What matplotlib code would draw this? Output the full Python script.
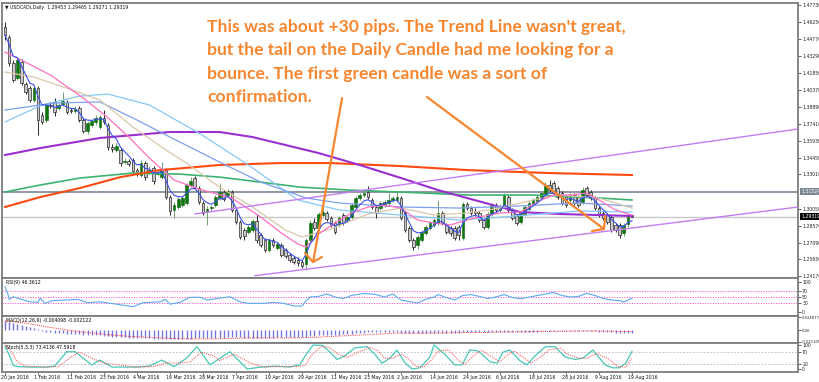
import numpy as np
import pandas as pd
import matplotlib
matplotlib.use("Agg")
import matplotlib.pyplot as plt
import matplotlib.transforms as mtrans

# ---------------- data (USDCAD daily) ----------------
opens = [1.4582, 1.4495, 1.4269, 1.4138, 1.4278, 1.4086, 1.4051, 1.3948, 1.4051, 1.3818,
         1.3774, 1.3905, 1.3931, 1.3878, 1.3913, 1.3931, 1.3861, 1.3852, 1.3878, 1.3774,
         1.3678, 1.3731, 1.3757, 1.3713, 1.3792, 1.3731, 1.3539, 1.3513, 1.3513, 1.3409,
         1.3417, 1.3426, 1.3339, 1.3296, 1.3400, 1.3322, 1.3356, 1.3304, 1.3278, 1.3339,
         1.3104, 1.2992, 1.3018, 1.3035, 1.3053, 1.3209, 1.3270, 1.3183, 1.3053, 1.2983,
         1.3009, 1.3035, 1.3096, 1.3148, 1.3122, 1.3148, 1.2992, 1.2888, 1.2818, 1.2801,
         1.2818, 1.2896, 1.2775, 1.2731, 1.2644, 1.2731, 1.2661, 1.2688, 1.2644, 1.2600,
         1.2574, 1.2557, 1.2540, 1.2522, 1.2731, 1.2888, 1.2835, 1.2948, 1.2966, 1.2922,
         1.2879, 1.2862, 1.2948, 1.2905, 1.2931, 1.3018, 1.3096, 1.3122, 1.3148, 1.3079,
         1.3018, 1.3009, 1.3035, 1.3053, 1.3079, 1.3079, 1.3096, 1.2966, 1.2835, 1.2731,
         1.2688, 1.2731, 1.2792, 1.2835, 1.2862, 1.2879, 1.2966, 1.2862, 1.2835, 1.2835,
         1.2844, 1.2748, 1.3044, 1.3009, 1.2983, 1.2966, 1.2905, 1.2844, 1.2957, 1.3035,
         1.2992, 1.3026, 1.3104, 1.2992, 1.2940, 1.2888, 1.2957, 1.3000, 1.3044, 1.3070,
         1.3096, 1.3131, 1.3209, 1.3226, 1.3183, 1.3139, 1.3104, 1.3079, 1.3122, 1.3104,
         1.3061, 1.3183, 1.3148, 1.3096, 1.3009, 1.2966, 1.2948, 1.2931, 1.2862, 1.2862,
         1.2792, 1.2870, 1.29453]
highs = [1.4626, 1.4513, 1.4295, 1.4312, 1.4304, 1.4104, 1.4069, 1.4069, 1.4069, 1.3844,
         1.3922, 1.3931, 1.3964, 1.3922, 1.4017, 1.3948, 1.3878, 1.3896, 1.3896, 1.3792,
         1.3765, 1.3783, 1.3818, 1.3818, 1.3861, 1.3748, 1.3565, 1.3574, 1.3530, 1.3443,
         1.3435, 1.3443, 1.3356, 1.3426, 1.3417, 1.3374, 1.3374, 1.3348, 1.3409, 1.3356,
         1.3122, 1.3061, 1.3104, 1.3113, 1.3226, 1.3278, 1.3287, 1.3200, 1.3070, 1.3026,
         1.3035, 1.3122, 1.3226, 1.3165, 1.3174, 1.3165, 1.3009, 1.2905, 1.2835, 1.2862,
         1.2914, 1.2957, 1.2792, 1.2748, 1.2748, 1.2748, 1.2714, 1.2705, 1.2661, 1.2618,
         1.2592, 1.2583, 1.2557, 1.2748, 1.2905, 1.2922, 1.2974, 1.3079, 1.2983, 1.2940,
         1.2896, 1.2940, 1.2966, 1.2948, 1.3053, 1.3113, 1.3139, 1.3157, 1.3200, 1.3096,
         1.3035, 1.3070, 1.3079, 1.3139, 1.3113, 1.3148, 1.3113, 1.2983, 1.2853, 1.2748,
         1.2774, 1.2818, 1.2862, 1.2896, 1.2922, 1.3079, 1.2983, 1.2879, 1.2853, 1.2853,
         1.2862, 1.3061, 1.3061, 1.3026, 1.3009, 1.2983, 1.2922, 1.2974, 1.3053, 1.3053,
         1.3044, 1.3139, 1.3122, 1.3009, 1.2957, 1.2983, 1.3035, 1.3070, 1.3096, 1.3122,
         1.3157, 1.3235, 1.3252, 1.3243, 1.3200, 1.3157, 1.3122, 1.3139, 1.3139, 1.3122,
         1.3191, 1.3200, 1.3165, 1.3113, 1.3026, 1.2983, 1.2966, 1.2948, 1.2879, 1.2879,
         1.2879, 1.2957, 1.29465]
lows = [1.4469, 1.4243, 1.4104, 1.4121, 1.4078, 1.3999, 1.3931, 1.3931, 1.3644, 1.3739,
        1.3757, 1.3878, 1.3809, 1.3861, 1.3896, 1.3826, 1.3835, 1.3835, 1.3757, 1.3661,
        1.3652, 1.3713, 1.3731, 1.3696, 1.3739, 1.3513, 1.3496, 1.3496, 1.3374, 1.3391,
        1.3374, 1.3304, 1.3287, 1.3278, 1.3252, 1.3304, 1.3217, 1.3287, 1.3261, 1.3087,
        1.2948, 1.2922, 1.3000, 1.3018, 1.3035, 1.3191, 1.3174, 1.3044, 1.2948, 1.2862,
        1.2983, 1.3018, 1.3079, 1.3070, 1.3104, 1.2974, 1.2870, 1.2740, 1.2731, 1.2783,
        1.2801, 1.2705, 1.2670, 1.2627, 1.2627, 1.2670, 1.2644, 1.2583, 1.2574, 1.2540,
        1.2522, 1.2505, 1.2488, 1.2470, 1.2714, 1.2818, 1.2818, 1.2940, 1.2896, 1.2844,
        1.2783, 1.2844, 1.2862, 1.2888, 1.2914, 1.3000, 1.3079, 1.3104, 1.3087, 1.3000,
        1.2922, 1.2992, 1.3018, 1.3035, 1.3061, 1.3061, 1.2905, 1.2801, 1.2714, 1.2644,
        1.2653, 1.2714, 1.2774, 1.2818, 1.2844, 1.2862, 1.2862, 1.2783, 1.2765, 1.2731,
        1.2731, 1.2731, 1.2992, 1.2948, 1.2940, 1.2888, 1.2827, 1.2827, 1.2940, 1.2974,
        1.2974, 1.3009, 1.2974, 1.2905, 1.2862, 1.2870, 1.2940, 1.2983, 1.3026, 1.3053,
        1.3079, 1.3113, 1.3148, 1.3122, 1.3087, 1.3035, 1.3018, 1.3061, 1.3035, 1.3018,
        1.3044, 1.3104, 1.3079, 1.2992, 1.2931, 1.2905, 1.2870, 1.2801, 1.2801, 1.2748,
        1.2765, 1.2844, 1.29271]
closes = [1.4513, 1.4269, 1.4121, 1.4295, 1.4095, 1.4017, 1.3948, 1.4051, 1.3774, 1.3757,
          1.3905, 1.3896, 1.3844, 1.3905, 1.3939, 1.3844, 1.3852, 1.3870, 1.3774, 1.3678,
          1.3748, 1.3765, 1.3792, 1.3800, 1.3757, 1.3539, 1.3522, 1.3548, 1.3400, 1.3417,
          1.3391, 1.3330, 1.3313, 1.3400, 1.3278, 1.3339, 1.3243, 1.3322, 1.3339, 1.3104,
          1.2983, 1.3035, 1.3087, 1.3096, 1.3209, 1.3243, 1.3191, 1.3061, 1.2966, 1.3000,
          1.3018, 1.3104, 1.3148, 1.3087, 1.3157, 1.2992, 1.2888, 1.2757, 1.2765, 1.2844,
          1.2896, 1.2731, 1.2688, 1.2644, 1.2731, 1.2688, 1.2696, 1.2600, 1.2592, 1.2557,
          1.2540, 1.2531, 1.2505, 1.2731, 1.2879, 1.2835, 1.2957, 1.2974, 1.2914, 1.2862,
          1.2801, 1.2922, 1.2879, 1.2931, 1.3035, 1.3096, 1.3122, 1.3139, 1.3104, 1.3018,
          1.2966, 1.3053, 1.3061, 1.3079, 1.3096, 1.3104, 1.2922, 1.2818, 1.2731, 1.2670,
          1.2757, 1.2801, 1.2844, 1.2879, 1.2905, 1.2966, 1.2879, 1.2801, 1.2792, 1.2748,
          1.2774, 1.3044, 1.3009, 1.2966, 1.2966, 1.2905, 1.2844, 1.2957, 1.3035, 1.2992,
          1.3026, 1.3122, 1.2992, 1.2922, 1.2879, 1.2966, 1.3018, 1.3053, 1.3079, 1.3104,
          1.3139, 1.3209, 1.3165, 1.3139, 1.3104, 1.3053, 1.3035, 1.3122, 1.3053, 1.3035,
          1.3165, 1.3122, 1.3096, 1.3009, 1.2948, 1.2922, 1.2888, 1.2818, 1.2818, 1.2775,
          1.2862, 1.2945, 1.29319]

date_bars = [0, 8, 16, 24, 32, 40, 48, 56, 64, 72, 80, 88, 96, 104, 112, 120, 128, 136, 144, 152]
date_labels = ["20 Jan 2016", "1 Feb 2016", "11 Feb 2016", "23 Feb 2016", "4 Mar 2016",
               "16 Mar 2016", "28 Mar 2016", "7 Apr 2016", "19 Apr 2016", "29 Apr 2016",
               "11 May 2016", "23 May 2016", "2 Jun 2016", "14 Jun 2016", "24 Jun 2016",
               "6 Jul 2016", "18 Jul 2016", "28 Jul 2016", "9 Aug 2016", "19 Aug 2016"]

price_ticks = [1.47730, 1.46250, 1.44770, 1.43290, 1.41850, 1.40370, 1.38890, 1.37410,
               1.35930, 1.34450, 1.33010, 1.30050, 1.28570, 1.27090, 1.25650, 1.24170]
level_line = 1.31524
last_price = 1.29319

# moving averages (bar index, price)
pink_idx = [0, 4, 11, 19, 25, 30, 35, 41, 47, 55, 62, 67, 71, 73, 76, 80, 84, 88, 92, 96,
            100, 104, 108, 112, 115, 120, 125, 130, 133, 137, 141, 144, 148, 152]
pink_val = [1.4365, 1.4295, 1.4165, 1.3964, 1.3792, 1.3626, 1.3443, 1.3252, 1.3174, 1.3096,
            1.2931, 1.2792, 1.2696, 1.2670, 1.2783, 1.2879, 1.2966, 1.3018, 1.3035, 1.3009,
            1.2905, 1.2879, 1.2862, 1.2905, 1.2931, 1.2966, 1.2974, 1.3079, 1.3122, 1.3122,
            1.3139, 1.3079, 1.2992, 1.2948]
tan_idx = [0, 7, 15, 23, 31, 39, 44, 52, 60, 68, 72, 79, 88, 96, 104, 112, 120, 128, 134, 144, 152]
tan_val = [1.4191, 1.4147, 1.4051, 1.3948, 1.3713, 1.3513, 1.3400, 1.3191, 1.3018, 1.2818,
           1.2757, 1.2827, 1.2957, 1.3009, 1.2948, 1.2966, 1.3009, 1.3079, 1.3122, 1.3096, 1.3009]
cfb_idx = [0, 12, 23, 32, 40, 52, 62, 73, 81, 96, 110, 124, 139, 152]
cfb_val = [1.3861, 1.3922, 1.3931, 1.3774, 1.3626, 1.3409, 1.3235, 1.3096, 1.3053, 1.3018,
           1.3009, 1.3026, 1.3053, 1.3026]
sky_idx = [0, 9, 18, 25, 35, 47, 59, 71, 81, 96, 110, 124, 139, 152]
sky_val = [1.3757, 1.3905, 1.3982, 1.3999, 1.3905, 1.3661, 1.3383, 1.3079, 1.2992, 1.2948,
           1.2905, 1.2940, 1.2983, 1.2974]
purple_idx = [0, 8.5, 23, 40, 52, 60, 69, 76, 86, 96, 105, 112, 120, 125, 134.5, 144, 152]
purple_val = [1.3470, 1.3530, 1.3618, 1.3670, 1.3670, 1.3626, 1.3548, 1.3487, 1.3383, 1.3270,
              1.3165, 1.3096, 1.3018, 1.2974, 1.2957, 1.2948, 1.2940]
orange_idx = [0, 8.5, 18.2, 28, 37.6, 52, 66.7, 78.8, 95.8, 112, 132, 152]
orange_val = [1.3018, 1.3104, 1.3183, 1.3278, 1.3339, 1.3383, 1.3400, 1.3400, 1.3374, 1.3339,
              1.3313, 1.3296]
green_idx = [0, 8.5, 18.2, 31, 42.4, 52, 61.8, 71.5, 83.6, 95.8, 112.7, 128, 144.2, 152]
green_val = [1.3148, 1.3209, 1.3270, 1.3313, 1.3304, 1.3278, 1.3235, 1.3191, 1.3165, 1.3148,
             1.3122, 1.3122, 1.3096, 1.3079]

# trend lines (bar index, price)
tl_low_idx = [60.6, 192.24]
tl_low_val = [1.2421, 1.3018]
tl_up_idx = [46.1, 192.24]
tl_up_val = [1.2958, 1.3696]

# RSI(9)
rsi_idx = [0, 0.7, 1, 2, 4, 6, 8, 8.5, 9.7, 11.6, 15, 17.7, 19.9, 23, 25.5, 31, 33.5, 37.6, 38.8,
           40, 42.4, 44.8, 47.3, 49, 51, 54.5, 57, 59, 62.5, 65, 67.5, 70, 72, 73, 74, 76, 78,
           80, 82, 84, 87, 90, 92, 94, 96, 98, 100, 102, 104, 105, 107, 109, 111, 113, 115, 117,
           119, 121, 123, 125, 128, 131, 133, 135, 137, 139, 141, 143, 145, 147, 149, 150, 151, 152]
rsi_val = [84, 60, 42, 51, 42, 34, 32, 46, 29, 38, 40, 42, 31, 34, 29, 18, 31, 34, 42,
           26, 32, 49, 49, 40, 44, 51, 34, 29, 29, 32, 29, 20, 20, 38, 50, 52, 60,
           50, 45, 55, 62, 58, 50, 60, 40, 35, 30, 42, 50, 58, 48, 40, 55, 58, 52, 45,
           50, 58, 48, 44, 52, 60, 65, 55, 50, 52, 62, 55, 45, 40, 38, 33, 40, 46.36]

# MACD(12,26,9) histogram per bar and signal line
macd_hist = [0.018, 0.016, 0.014, 0.012, 0.010, 0.008, 0.006, 0.004, 0.002,
             -0.001, -0.002, -0.003, -0.004, -0.005, -0.005, -0.006,
             -0.006, -0.007, -0.007, -0.008, -0.008, -0.009, -0.009, -0.009, -0.010, -0.011,
             -0.012, -0.012, -0.013, -0.013, -0.014, -0.014, -0.015, -0.015, -0.015, -0.015,
             -0.016, -0.016, -0.016, -0.016, -0.017,
             -0.017, -0.017, -0.017, -0.016, -0.016, -0.015, -0.015, -0.015, -0.015, -0.015,
             -0.015, -0.014, -0.014, -0.013, -0.013,
             -0.013, -0.013, -0.014, -0.014, -0.014, -0.014, -0.014, -0.014, -0.014, -0.014,
             -0.013, -0.013, -0.013, -0.013, -0.013, -0.013, -0.013,
             -0.012, -0.011, -0.010, -0.009, -0.008, -0.008, -0.008, -0.008, -0.008, -0.007,
             -0.007, -0.006, -0.005, -0.004, -0.004, -0.003, -0.003, -0.003,
             -0.003, -0.003, -0.003, -0.003, -0.003, -0.004, -0.004, -0.005, -0.005, -0.005,
             -0.005, -0.005, -0.005, -0.004, -0.004, -0.004, -0.004, -0.004, -0.004, -0.004,
             -0.003, -0.003, -0.003, -0.003, -0.003, -0.003, -0.003, -0.003, -0.003, -0.003,
             -0.003, -0.003, -0.003, -0.003, -0.003, -0.002, -0.002, -0.002, -0.002, -0.001,
             -0.001, -0.001, -0.001, -0.001, -0.001, -0.001, -0.001, -0.001, -0.001, -0.001,
             -0.001, -0.001, -0.001, -0.002, -0.002, -0.003, -0.003, -0.004, -0.004, -0.005,
             -0.005, -0.004098]
macd_sig_idx = [0, 5, 10, 15, 20, 25, 30, 35, 40, 45, 50, 55, 60, 65, 70, 75, 80, 85, 90, 95,
                100, 105, 110, 115, 120, 130, 140, 145, 150, 152]
macd_sig_val = [0.018, 0.014, 0.007, 0.001, -0.004, -0.008, -0.011, -0.013, -0.015, -0.016,
                -0.016, -0.015, -0.014, -0.014, -0.014, -0.013, -0.011, -0.009, -0.007, -0.005,
                -0.005, -0.005, -0.004, -0.004, -0.003, -0.002, -0.001, -0.001, -0.002, -0.002122]

# Stochastic(5,3,3)
stk_idx = [0, 1, 2, 3, 6, 10, 12, 15, 17, 21, 23, 26, 32, 35, 38, 41, 44, 46.5, 49.7, 54.5,
           58.7, 62, 65.5, 69, 71.5, 72.7, 74.7, 77, 78.8, 80.5, 82.4, 84.8, 87.8, 89.7, 91.4,
           93.3, 95, 97, 98.7, 100.6, 103, 104, 106.7, 109, 110.8, 112.7, 114.7, 117.6, 119.3,
           120.7, 122.4, 124.8, 126.5, 128.5, 131, 133.3, 135.8, 138.2, 140.1, 142.5, 145.5,
           147.2, 149, 150.5, 152]
stk_val = [93, 60, 15, 10, 8, 8, 12, 72, 72, 17, 37, 8, 8, 12, 37, 10, 45, 93, 17, 72,
           0, 8, 12, 8, 18, 53, 100, 98, 70, 40, 55, 88, 93, 60, 24,
           45, 79, 25, 0, 5, 50, 100, 60, 17, 17, 80, 75, 30, 24,
           70, 79, 35, 17, 55, 93, 93, 50, 40, 45, 79, 17,
           5, 5, 25, 73.41]
std_idx = [0, 1, 2, 3, 5, 10, 13, 16, 18, 21, 24, 27, 32, 36, 39, 42, 45, 47.5, 50.5, 52,
           55.5, 59.5, 62.5, 66.5, 71, 72.7, 74.5, 76.5, 78.5, 81, 83, 85.5, 88.5, 90.5, 92,
           94, 96, 98, 99.5, 101.5, 103.5, 105, 107.5, 110, 111.5, 113.5, 115.5, 118, 120,
           121.5, 123.5, 125.5, 127.5, 129.5, 132, 134.5, 136.5, 139, 141, 143.5, 146.5,
           148.5, 150.5, 152]
std_val = [100, 85, 60, 30, 12, 8, 10, 50, 70, 45, 25, 18, 8, 10, 25, 25, 30, 70, 55, 35,
           62, 25, 8, 10, 10, 15, 60, 93, 90, 60, 48, 70, 90, 75, 45,
           45, 62, 40, 12, 8, 40, 75, 80, 35, 20, 55, 78, 50, 30,
           55, 75, 50, 25, 45, 80, 88, 60, 45, 45, 65, 40,
           10, 8, 47.59]

header = "\u25bc USDCADi,Daily  1.29453 1.29465 1.29271 1.29319"
note_lines = ["This was about +30 pips. The Trend Line wasn't great,",
              "but the tail on the Daily Candle had me looking for a",
              "bounce. The first green candle was a sort of",
              "confirmation."]

# ---------------- figure ----------------
W, H = 820, 382
fig = plt.figure(figsize=(W / 100, H / 100), dpi=100)
fig.patch.set_facecolor("white")


def axes_px(top, bottom, left=2, right=798):
    return fig.add_axes([left / W, 1 - bottom / H, (right - left) / W, (bottom - top) / H])


ax = axes_px(3, 278)
ax_rsi = axes_px(278, 316)
ax_macd = axes_px(316, 343)
ax_st = axes_px(343, 372)

XL = (-0.73, 192.24)
TFS = 3.3
for a in (ax, ax_rsi, ax_macd, ax_st):
    a.set_xlim(*XL)
    a.set_facecolor("white")
    for s in a.spines.values():
        s.set_color("#7c7c7c")
        s.set_linewidth(1.3)
    a.yaxis.tick_right()
    a.tick_params(axis="y", labelsize=TFS, length=2, width=0.5, pad=1, colors="#222222")
    a.tick_params(axis="x", bottom=False, labelbottom=False)

idx = np.arange(len(closes))
o = np.array(opens); c = np.array(closes); hi = np.array(highs); lo = np.array(lows)
up = c >= o
dn = ~up

# ----- main price panel -----
ax.set_ylim(1.2401, 1.4791)
ax.set_yticks(price_ticks)
ax.set_yticklabels([f"{v:.5f}" for v in price_ticks])

ax.axhline(level_line, color="#6e7c8a", lw=1.1, zorder=1)
ax.axhline(last_price, color="#c9c9c9", lw=1.0, zorder=1)

ax.vlines(idx[dn], lo[dn], hi[dn], color="#2a2a2a", lw=0.7, zorder=2)
ax.vlines(idx[up], lo[up], hi[up], color="#6f9f6f", lw=0.7, zorder=2)
ax.bar(idx[dn], np.maximum(o[dn] - c[dn], 0.0002), bottom=c[dn], width=0.62,
       color="#c9c9c9", edgecolor="#2a2a2a", linewidth=0.5, zorder=3)
ax.bar(idx[up], np.maximum(c[up] - o[up], 0.0002), bottom=o[up], width=0.62,
       color="#0c780c", edgecolor="#0a5f0a", linewidth=0.4, zorder=3)

ax.plot(green_idx, green_val, color="#3cb371", lw=1.2, zorder=4)
ax.plot(orange_idx, orange_val, color="#ff4a10", lw=1.5, zorder=4)
ax.plot(purple_idx, purple_val, color="#9a2fd0", lw=1.5, zorder=4)
ax.plot(sky_idx, sky_val, color="#87c8f8", lw=0.9, zorder=4)
ax.plot(cfb_idx, cfb_val, color="#7d9ff0", lw=0.9, zorder=4)
ax.plot(tan_idx, tan_val, color="#d8c8a8", lw=0.9, zorder=4)
ax.plot(pink_idx, pink_val, color="#ff70c0", lw=0.9, zorder=4)
fast = pd.Series(closes).ewm(span=5, adjust=False).mean()
ax.plot(idx, fast, color="#3c50f0", lw=0.8, zorder=4)

ax.plot(tl_low_idx, tl_low_val, color="#c47cf2", lw=1.0, zorder=5)
ax.plot(tl_up_idx, tl_up_val, color="#c47cf2", lw=1.0, zorder=5)

# orange arrows
ORG = "#f7862f"
ax.plot([81.7, 74.7], [1.3964, 1.2540], color=ORG, lw=1.6, zorder=6, solid_capstyle="round")
ax.plot([72.7, 74.7, 76.8], [1.2618, 1.2540, 1.2583], color=ORG, lw=1.6, zorder=6,
        solid_capstyle="round", solid_joinstyle="round")
ax.plot([102.3, 145.2], [1.3974, 1.2827], color=ORG, lw=1.6, zorder=6, solid_capstyle="round")
ax.plot([142.3, 145.2, 145.5], [1.2809, 1.2827, 1.2940], color=ORG, lw=1.6, zorder=6,
        solid_capstyle="round", solid_joinstyle="round")

blend = mtrans.blended_transform_factory(ax.transAxes, ax.transData)
ax.text(1.004, level_line, f"{level_line:.5f}", transform=blend, fontsize=TFS, color="white",
        va="center", ha="left", bbox=dict(boxstyle="square,pad=0.2", fc="#7a8794", ec="none"))
ax.text(1.004, last_price, f"{last_price:.5f}", transform=blend, fontsize=TFS, color="white",
        va="center", ha="left", bbox=dict(boxstyle="square,pad=0.2", fc="#000000", ec="none"))

fig.text(5 / W, 1 - 7.5 / H, header, fontsize=TFS, va="center", ha="left", color="#111111")

baselines = [32, 55.5, 79, 102]
for ln, b in zip(note_lines, baselines):
    fig.text(207 / W, 1 - b / H, ln, fontsize=12.6, fontweight="bold", family=["Lato", "DejaVu Sans"],
             color=ORG, va="baseline", ha="left")

# ----- RSI -----
ax_rsi.set_ylim(-13.3, 113.3)
for lv in (70, 50, 30):
    ax_rsi.axhline(lv, color="#ff5fd0", lw=0.7, ls=(0, (1.2, 1.4)))
ax_rsi.plot(rsi_idx, rsi_val, color="#5aaaf0", lw=0.8)
ax_rsi.set_yticks([100, 70, 50, 30, 0])
ax_rsi.set_yticklabels(["100", "70", "50", "30", "0"])
ax_rsi.text(0.005, 0.87, "RSI(9) 46.3612", transform=ax_rsi.transAxes, fontsize=TFS, va="center")

# ----- MACD -----
ax_macd.set_ylim(-0.0238, 0.0276)
ax_macd.vlines(idx, 0, macd_hist, color="#7676e0", lw=1.0)
ax_macd.plot(macd_sig_idx, macd_sig_val, color="#ff3030", lw=0.7, ls=(0, (1, 1.2)))
ax_macd.set_yticks([0.024877, 0.0, -0.021105])
ax_macd.set_yticklabels(["0.024877", "0.00", "-0.021105"])
ax_macd.tick_params(axis="y", labelsize=2.7, pad=0.8)
ax_macd.text(0.005, 0.85, "MACD(12,26,9) -0.004098 -0.002122", transform=ax_macd.transAxes,
             fontsize=TFS, va="center")

# ----- Stochastic -----
ax_st.set_ylim(-12.5, 108.3)
for lv in (70, 20):
    ax_st.axhline(lv, color="#c8c8c8", lw=0.7, ls=(0, (2, 1.5)))
ax_st.plot(stk_idx, stk_val, color="#48c8b8", lw=0.9)
ax_st.plot(std_idx, std_val, color="#ff4040", lw=0.7, ls=(0, (1, 1.2)))
ax_st.set_yticks([100, 70, 20, 0])
ax_st.set_yticklabels(["100", "70", "20", "0"])
ax_st.text(0.005, 0.86, "Stoch(5,3,3) 73.4136 47.5918", transform=ax_st.transAxes,
           fontsize=TFS, va="center")

ax_st.set_xticks(date_bars)
ax_st.tick_params(axis="x", bottom=True, labelbottom=False, length=2, width=0.5, colors="#444444")
bt = mtrans.blended_transform_factory(ax_st.transData, ax_st.transAxes)
for b, lab in zip(date_bars, date_labels):
    ax_st.text(b - 1.0, -0.18, lab, transform=bt, fontsize=TFS, va="center", ha="left", color="#111111")

fig.savefig("out.png", dpi=100)
